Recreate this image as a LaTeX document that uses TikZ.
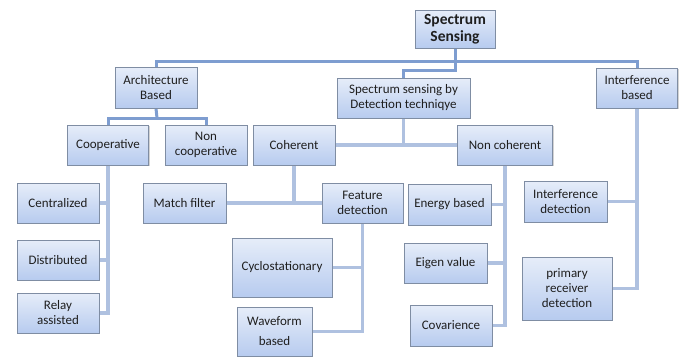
\documentclass[tikz,border=0pt]{standalone}
\usepackage{fontspec}
\setmainfont{Carlito}
\usetikzlibrary{shadows,backgrounds}
\definecolor{boxtop}{HTML}{E6EDF9}
\definecolor{boxbot}{HTML}{B7CBEF}
\definecolor{boxedge}{HTML}{7F8DA3}
\definecolor{lineA}{HTML}{7E9DD0}
\definecolor{lineB}{HTML}{AFC1E0}
\tikzset{
  box/.style={draw=boxedge, line width=0.8pt, top color=boxtop, bottom color=boxbot,
    align=center, inner sep=1pt, text=black!88,
    font=\fontsize{13}{15}\selectfont,
    drop shadow={shadow xshift=1.2pt, shadow yshift=-1.2pt, opacity=0.35, fill=black!50}},
  conA/.style={draw=lineA, line width=3pt},
  conB/.style={draw=lineB, line width=3.2pt},
}
\newcommand{\bx}[6]{\node[box, minimum width=#4pt, minimum height=#5pt] (#1) at (#2,#3) {#6};}
\begin{document}
\begin{tikzpicture}[x=1pt, y=-1pt]
\useasboundingbox (0,0) rectangle (685,356);
\coordinate (j1) at (455,61);
\coordinate (j2) at (455,70);
\coordinate (j3) at (157,118);
% boxes
\node[box, minimum width=80pt, minimum height=38pt, font=\fontsize{15.5}{17.5}\selectfont\bfseries] (ss) at (455,29) {Spectrum\\Sensing};
\bx{arch}{156}{87.5}{82}{41}{Architecture\\Based}
\bx{sdt}{403.5}{98}{133}{40}{Spectrum sensing by\\Detection techniqye}
\bx{ib}{637}{88}{81}{40}{Interference\\based}
\bx{coop}{108}{145}{81}{40}{Cooperative}
\bx{ncoop}{206}{145}{82}{40}{Non\\cooperative}
\bx{coh}{294}{145}{82}{40}{Coherent}
\bx{nc}{505}{145}{95}{40}{Non coherent}
\bx{cent}{58}{203}{82}{40}{Centralized}
\bx{dist}{58}{260}{82}{40}{Distributed}
\bx{relay}{58}{313}{82}{40}{Relay\\assisted}
\bx{mf}{184.5}{203}{83}{40}{Match filter}
\bx{fd}{362.5}{203}{81}{40}{Feature\\detection}
\bx{cyc}{282}{267.5}{100}{59}{Cyclostationary}
\node[box, minimum width=75pt, minimum height=49pt, font=\fontsize{13}{20}\selectfont] (wave) at (274.5,331.5) {Waveform\\based};
\bx{en}{449.5}{204.5}{83}{41}{Energy based}
\bx{eig}{445.5}{263}{83}{40}{Eigen value}
\bx{cov}{451}{325.5}{82}{41}{Covarience}
\bx{idt}{565.5}{201.5}{83}{41}{Interference\\detection}
\bx{prd}{567}{288.5}{90}{63}{primary\\receiver\\detection}
% connectors
\begin{scope}[on background layer]
\draw[conA] (ss.south) -- (j1);
\draw[conA] (arch.north) |- (j1) -| (ib.north);
\draw[conA] (j1) -- (j2) -| (sdt.north);
\draw[conA] (arch.south) -- (j3);
\draw[conA] (coop.north) |- (j3) -| (ncoop.north);
\draw[conB] (sdt.south) -- (sdt.south |- coh.east);
\draw[conB] (coh.east) -- (nc.west);
\draw[conB] (coop.south) |- (relay.east);
\draw[conB] (cent.east) -- (cent.east -| coop.south);
\draw[conB] (dist.east) -- (dist.east -| coop.south);
\draw[conB] (coh.south) -- (coh.south |- mf.east);
\draw[conB] (mf.east) -- (fd.west);
\draw[conB] (fd.south) |- (wave.east);
\draw[conB] (cyc.east) -- (cyc.east -| fd.south);
\draw[conB] (nc.south) |- (cov.east);
\draw[conB] (en.east) -- (en.east -| nc.south);
\draw[conB] (eig.east) -- (eig.east -| nc.south);
\draw[conB] (ib.south) |- (prd.east);
\draw[conB] (idt.east) -- (idt.east -| ib.south);
\end{scope}
\end{tikzpicture}
\end{document}
